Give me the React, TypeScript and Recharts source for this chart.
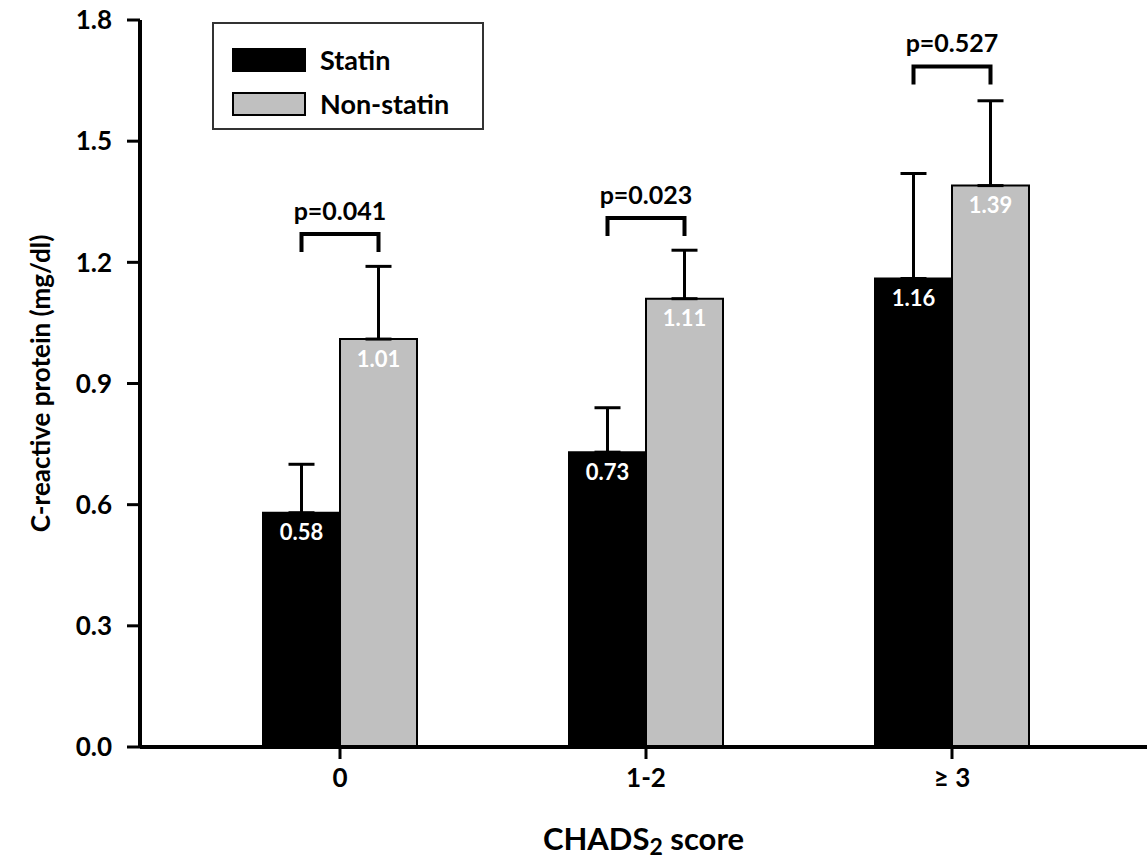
import React from 'react';
import { BarChart, Bar, XAxis, YAxis, ErrorBar, LabelList, Legend, Label } from 'recharts';

const categories = ['0', '1-2', '≥ 3'];
const seriesNames = ['Statin', 'Non-statin'];
const statinValues = [0.58, 0.73, 1.16];
const nonStatinValues = [1.01, 1.11, 1.39];
const statinErrors = [0.12, 0.11, 0.26];
const nonStatinErrors = [0.18, 0.12, 0.21];
const pValueLabels = ['p=0.041', 'p=0.023', 'p=0.527'];
const bracketLevels = [1.27, 1.31, 1.685];
const yTicks = [0, 0.3, 0.6, 0.9, 1.2, 1.5, 1.8];

const data = categories.map((cat, i) => ({
  cat,
  statin: statinValues[i],
  nonStatin: nonStatinValues[i],
  statinErr: [0, statinErrors[i]],
  nonStatinErr: [0, nonStatinErrors[i]],
}));

const FONT = 'Lato, "Open Sans", sans-serif';

const ValueLabel = (props: any) => {
  const { x, y, width, value } = props;
  return (
    <text
      x={x + width / 2}
      y={y + 19}
      textAnchor="middle"
      dominantBaseline="central"
      fill="#ffffff"
      fontFamily={FONT}
      fontWeight="bold"
      fontSize={22}
    >
      {Number(value).toFixed(2)}
    </text>
  );
};

const BracketLabel = (props: any) => {
  const { x, y, width, height, value, index } = props;
  const pxPerUnit = height / value;
  const base = y + height;
  const by = base - bracketLevels[index] * pxPerUnit;
  const x1 = x + width / 2;
  const x2 = x + width * 1.5;
  const drop = 18;
  return (
    <g>
      <path
        d={`M${x1},${by + drop} L${x1},${by} L${x2},${by} L${x2},${by + drop}`}
        fill="none"
        stroke="#000"
        strokeWidth={4}
      />
      <text
        x={(x1 + x2) / 2}
        y={by - 24}
        textAnchor="middle"
        dominantBaseline="central"
        fill="#000"
        fontFamily={FONT}
        fontWeight="bold"
        fontSize={25}
      >
        {pValueLabels[index]}
      </text>
    </g>
  );
};

const LegendBox = (props: any) => {
  const payload = [...(props.payload || [])].sort(
    (a: any, b: any) => seriesNames.indexOf(a.value) - seriesNames.indexOf(b.value)
  );
  return (
    <div
      style={{
        width: 268,
        height: 104,
        border: '2px solid #333',
        background: '#fff',
        position: 'relative',
        boxSizing: 'content-box',
      }}
    >
      {payload.map((p: any, i: number) => (
        <div key={i} style={{ position: 'absolute', left: 18, top: 24 + i * 44, display: 'flex', alignItems: 'center' }}>
          <div
            style={{
              width: 70,
              height: 20,
              background: p.color,
              border: '2px solid #000',
            }}
          />
          <span
            style={{
              marginLeft: 14,
              fontFamily: FONT,
              fontWeight: 'bold',
              fontSize: 27,
              color: '#000',
              lineHeight: '24px',
            }}
          >
            {p.value}
          </span>
        </div>
      ))}
    </div>
  );
};

export default function App() {
  return (
    <div style={{ position: 'absolute', left: 0, top: 0, background: '#fff' }}>
      <BarChart
        width={1147}
        height={867}
        data={data}
        margin={{ top: 20, right: 0, bottom: 60, left: 10 }}
        barGap={0}
        barSize={77}
      >
        <XAxis
          dataKey="cat"
          padding={{ left: 47, right: 42 }}
          axisLine={{ stroke: '#000', strokeWidth: 4 }}
          tickLine={{ stroke: '#000', strokeWidth: 3 }}
          tickSize={12}
          tickMargin={10}
          height={60}
          tick={{ fill: '#000', fontFamily: FONT, fontWeight: 'bold', fontSize: 26 }}
        >
          <Label
            content={(props: any) => {
              const vb = props.viewBox || {};
              const cx = vb.x + vb.width / 2;
              return (
                <text
                  x={cx}
                  y={838}
                  textAnchor="middle"
                  dominantBaseline="central"
                  fill="#000"
                  fontFamily={FONT}
                  fontWeight="bold"
                  fontSize={31}
                >
                  CHADS
                  <tspan fontSize={23} dy={8}>2</tspan>
                  <tspan dy={-8}> score</tspan>
                </text>
              );
            }}
          />
        </XAxis>
        <YAxis
          domain={[0, 1.8]}
          ticks={yTicks}
          interval={0}
          tickFormatter={(v: number) => v.toFixed(1)}
          axisLine={{ stroke: '#000', strokeWidth: 4 }}
          tickLine={{ stroke: '#000', strokeWidth: 3 }}
          tickSize={13}
          tickMargin={15}
          width={130}
          tick={{ fill: '#000', fontFamily: FONT, fontWeight: 'bold', fontSize: 26 }}
        >
          <Label
            content={(props: any) => {
              const vb = props.viewBox || {};
              const cx = vb.x + 30;
              const cy = vb.y + vb.height / 2;
              return (
                <text
                  x={cx}
                  y={cy}
                  transform={`rotate(-90, ${cx}, ${cy})`}
                  textAnchor="middle"
                  dominantBaseline="central"
                  fill="#000"
                  fontFamily={FONT}
                  fontWeight="bold"
                  fontSize={26}
                >
                  C-reactive protein (mg/dl)
                </text>
              );
            }}
          />
        </YAxis>
        <Legend
          layout="horizontal"
          verticalAlign="middle"
          align="center"
          content={<LegendBox />}
          wrapperStyle={{ position: 'absolute', left: 212, top: 22, width: 272, height: 108 }}
        />
        <Bar dataKey="statin" name="Statin" fill="#000000" stroke="#000" strokeWidth={2} isAnimationActive={false}>
          <ErrorBar dataKey="statinErr" width={13} strokeWidth={3} stroke="#000" direction="y" />
          <LabelList dataKey="statin" content={<ValueLabel />} />
          <LabelList dataKey="statin" content={<BracketLabel />} />
        </Bar>
        <Bar dataKey="nonStatin" name="Non-statin" fill="#c0c0c0" stroke="#000" strokeWidth={2} isAnimationActive={false}>
          <ErrorBar dataKey="nonStatinErr" width={13} strokeWidth={3} stroke="#000" direction="y" />
          <LabelList dataKey="nonStatin" content={<ValueLabel />} />
        </Bar>
      </BarChart>
    </div>
  );
}
